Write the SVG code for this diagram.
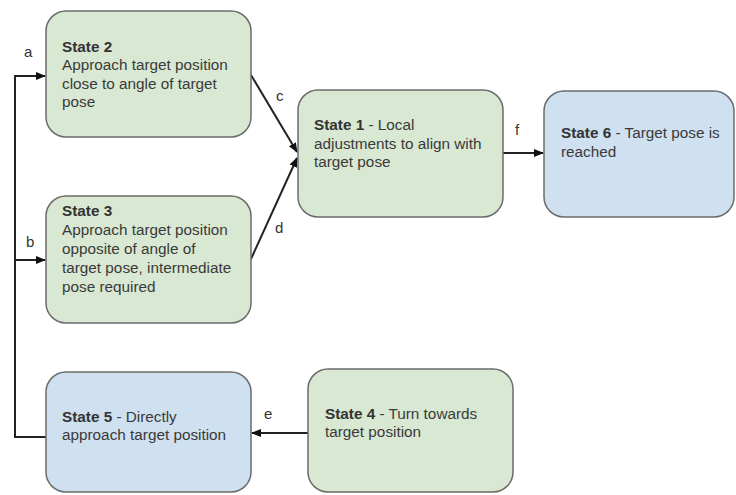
<svg xmlns="http://www.w3.org/2000/svg" width="736" height="495" viewBox="0 0 736 495">
<style>
.g{fill:#d9e8d2;stroke:#6b6b6b;stroke-width:1.5}
.b{fill:#cfe0f0;stroke:#6b6b6b;stroke-width:1.5}
text{font-family:"Liberation Sans",Arial,sans-serif;font-size:15.3px;fill:#3a3a3a}
.t{font-weight:bold;fill:#333}
.c{fill:none;stroke:#222;stroke-width:2}
.l{font-size:15px;fill:#333}
</style>
<defs>
<marker id="ah" markerWidth="10" markerHeight="10" refX="9" refY="5" orient="auto" markerUnits="userSpaceOnUse">
<path d="M0,1 L10,5 L0,9 Z" fill="#111"/>
</marker>
</defs>
<rect width="736" height="495" fill="#fff"/>
<g id="connectors">
<path class="c" d="M46,437 H15 V76 H45" marker-end="url(#ah)"/>
<path class="c" d="M15,260 H45" marker-end="url(#ah)"/>
<path class="c" d="M251,75 L297,152" marker-end="url(#ah)"/>
<path class="c" d="M251,259 L297,158" marker-end="url(#ah)"/>
<path class="c" d="M503,153 H543" marker-end="url(#ah)"/>
<path class="c" d="M308,433 H252" marker-end="url(#ah)"/>
<text class="l" x="24" y="57">a</text>
<text class="l" x="26" y="247">b</text>
<text class="l" x="276" y="101">c</text>
<text class="l" x="275" y="233">d</text>
<text class="l" x="515" y="135">f</text>
<text class="l" x="264" y="419">e</text>
</g>
<g id="state2">
<rect class="g" x="46" y="11" width="205" height="126" rx="20"/>
<text x="62" y="52"><tspan class="t">State 2</tspan></text>
<text x="62" y="70">Approach target position</text>
<text x="62" y="88.5">close to angle of target</text>
<text x="62" y="107">pose</text>
</g>
<g id="state3">
<rect class="g" x="46" y="196" width="205" height="127" rx="20"/>
<text x="62" y="216"><tspan class="t">State 3</tspan></text>
<text x="62" y="235">Approach target position</text>
<text x="62" y="254">opposite of angle of</text>
<text x="62" y="273">target pose, intermediate</text>
<text x="62" y="292">pose required</text>
</g>
<g id="state1">
<rect class="g" x="298" y="90" width="205" height="127" rx="20"/>
<text x="314" y="130"><tspan class="t">State 1</tspan> - Local</text>
<text x="314" y="149">adjustments to align with</text>
<text x="314" y="167">target pose</text>
</g>
<g id="state6">
<rect class="b" x="544" y="91" width="190" height="126" rx="20"/>
<text x="561" y="138"><tspan class="t">State 6</tspan> - Target pose is</text>
<text x="561" y="157">reached</text>
</g>
<g id="state5">
<rect class="b" x="46" y="372" width="205" height="120" rx="20"/>
<text x="62" y="422"><tspan class="t">State 5</tspan> - Directly</text>
<text x="62" y="440">approach target position</text>
</g>
<g id="state4">
<rect class="g" x="308" y="369" width="205" height="123" rx="20"/>
<text x="325" y="419"><tspan class="t">State 4</tspan> - Turn towards</text>
<text x="325" y="437">target position</text>
</g>
</svg>
